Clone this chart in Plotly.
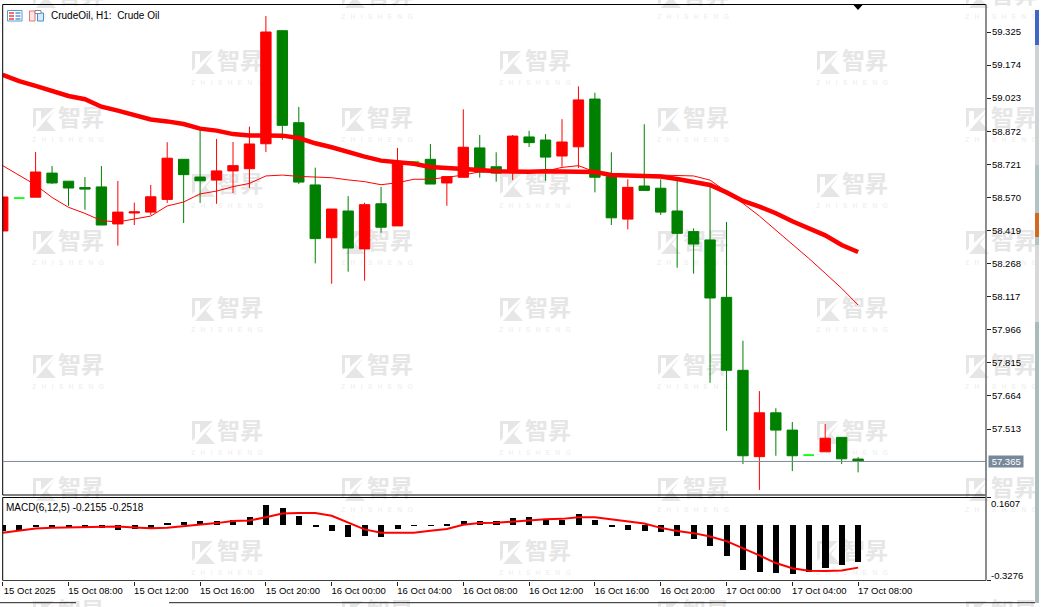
import plotly.graph_objects as go

# ---------- chart data ----------
opens = [58.417,58.567,58.571,58.681,58.644,58.615,58.618,58.449,58.499,58.503,58.561,58.744,58.663,58.649,58.691,58.701,58.815,59.331,58.911,58.627,58.386,58.508,58.335,58.541,58.440,58.732,58.744,58.636,58.662,58.796,58.710,58.687,58.846,58.832,58.759,58.801,59.019,58.665,58.471,58.622,58.612,58.508,58.414,58.376,58.114,57.781,57.387,57.587,57.508,57.394,57.409,57.475,57.376]
highs = [58.572,58.567,58.777,58.713,58.644,58.663,58.713,58.645,58.546,58.627,58.822,58.744,58.878,58.837,58.823,58.893,59.398,59.331,58.983,58.706,58.517,58.576,58.546,58.618,58.796,58.732,58.814,58.665,58.972,58.855,58.776,58.855,58.874,58.859,58.927,59.077,59.048,58.776,58.653,58.904,58.653,58.649,58.429,58.619,58.458,57.916,57.686,57.608,57.545,57.394,57.536,57.475,57.385]
lows = [58.417,58.567,58.571,58.631,58.532,58.514,58.444,58.350,58.444,58.490,58.545,58.453,58.545,58.541,58.590,58.613,58.777,58.833,58.631,58.269,58.176,58.231,58.190,58.409,58.440,58.732,58.631,58.532,58.662,58.660,58.642,58.649,58.800,58.646,58.710,58.704,58.593,58.444,58.424,58.602,58.490,58.249,58.222,57.724,57.505,57.353,57.235,57.391,57.321,57.394,57.409,57.353,57.315]
closes = [58.572,58.567,58.686,58.636,58.613,58.608,58.444,58.503,58.504,58.573,58.749,58.674,58.646,58.691,58.715,58.814,59.325,58.899,58.640,58.382,58.517,58.339,58.537,58.434,58.733,58.732,58.631,58.665,58.799,58.686,58.681,58.850,58.820,58.754,58.823,59.015,58.662,58.477,58.616,58.602,58.503,58.406,58.357,58.111,57.781,57.391,57.587,57.508,57.391,57.394,57.471,57.377,57.366]
ma_slow = [59.129,59.101,59.079,59.056,59.033,59.018,58.984,58.966,58.946,58.926,58.917,58.905,58.884,58.875,58.859,58.853,58.853,58.852,58.841,58.817,58.799,58.776,58.756,58.738,58.729,58.724,58.709,58.706,58.698,58.695,58.689,58.687,58.687,58.690,58.689,58.687,58.686,58.672,58.671,58.667,58.665,58.654,58.639,58.627,58.593,58.554,58.528,58.498,58.461,58.429,58.397,58.353,58.321]
ma_fast = [58.715,58.672,58.627,58.570,58.525,58.497,58.464,58.458,58.471,58.485,58.531,58.549,58.586,58.599,58.619,58.634,58.668,58.672,58.666,58.662,58.660,58.650,58.642,58.628,58.637,58.653,58.653,58.662,58.672,58.687,58.686,58.687,58.687,58.690,58.707,58.715,58.687,58.672,58.674,58.674,58.672,58.671,58.668,58.649,58.596,58.543,58.485,58.421,58.353,58.292,58.224,58.155,58.079]
macd_hist = [-.031,-.031,-.006,-.006,-.010,-.015,-.018,-.025,-.023,-.020,.012,.018,.025,.024,.031,.049,.122,.104,.053,-.010,-.031,-.067,-.061,-.067,-.024,-.004,-.004,.004,.024,.024,.024,.041,.047,.031,.031,.067,.031,-.012,-.025,-.031,-.041,-.065,-.078,-.120,-.180,-.261,-.272,-.278,-.284,-.272,-.249,-.231,-.2155]
macd_signal = [-.047,-.033,-.022,-.018,-.016,-.010,-.008,-.010,-.016,-.020,-.018,-.010,-.002,.010,.022,.025,.045,.067,.069,.069,.053,.014,-.027,-.047,-.049,-.047,-.035,-.024,0,.010,.012,.020,.025,.033,.035,.045,.045,.033,.022,.008,-.018,-.037,-.049,-.069,-.096,-.137,-.180,-.225,-.255,-.270,-.272,-.269,-.2518]
price_ticks = ["59.325","59.174","59.023","58.872","58.721","58.570","58.419","58.268","58.117","57.966","57.815","57.664","57.513"]
time_ticks = ["15 Oct 2025","15 Oct 08:00","15 Oct 12:00","15 Oct 16:00","15 Oct 20:00","16 Oct 00:00","16 Oct 04:00","16 Oct 08:00","16 Oct 12:00","16 Oct 16:00","16 Oct 20:00","17 Oct 00:00","17 Oct 04:00","17 Oct 08:00"]
last_price = 57.365
macd_top, macd_bottom = 0.1607, -0.3276

# ---------- page layout (pixels) ----------
W, H = 1041, 607
L, R = 2.7, 986
MAIN_T, MAIN_B = 4.5, 495
SUB_T, SUB_B = 497.5, 580.5
BAR_PX = 16.45
FONT = "Liberation Sans"
WM = "#e6e6e6"
mark_cols_a = [68, 377, 693, 1001]
mark_rows_a = [2, 125, 248, 372, 495, 618]
mark_cols_b = [227, 535, 852]
mark_rows_b = [68, 191, 315, 438, 558]
marks = [(x, y) for x in mark_cols_a for y in mark_rows_a] + [(x, y) for x in mark_cols_b for y in mark_rows_b]

n = len(opens)
idx = list(range(n))
fig = go.Figure()

# watermark subplot (drawn first, underneath the chart)
fig.add_trace(go.Scatter(x=[m[0] + 13 for m in marks], y=[m[1] - 5 for m in marks], mode="text", text=["智昇"] * len(marks),
                         textfont=dict(family="Noto Sans CJK SC", size=23, color=WM, weight=700),
                         xaxis="x", yaxis="y", hoverinfo="skip"))
fig.add_trace(go.Scatter(x=[m[0] for m in marks], y=[m[1] + 15 for m in marks], mode="text",
                         text=["\u00a0\u00a0\u00a0".join("ZHISHENG")] * len(marks),
                         textfont=dict(family=FONT, size=6.5, color="#ececec"),
                         xaxis="x", yaxis="y", hoverinfo="skip"))

# candles
def subset(keep):
    ii = [i for i in idx if keep(i)]
    return dict(x=ii, open=[opens[i] for i in ii], high=[highs[i] for i in ii], low=[lows[i] for i in ii], close=[closes[i] for i in ii])

def candle(sel, inc, dec):
    fig.add_trace(go.Candlestick(**sel, xaxis="x2", yaxis="y2", whiskerwidth=0,
                                 increasing=dict(line=dict(color=inc, width=1), fillcolor=inc),
                                 decreasing=dict(line=dict(color=dec, width=1), fillcolor=dec)))

candle(subset(lambda i: opens[i] != closes[i]), "#ff0000", "#008000")
candle(subset(lambda i: opens[i] == closes[i]), "#00ff00", "#00ff00")
fig.add_trace(go.Scatter(x=idx, y=ma_fast, mode="lines", line=dict(color="#ff0000", width=1), xaxis="x2", yaxis="y2"))
fig.add_trace(go.Scatter(x=idx, y=ma_slow, mode="lines", line=dict(color="#ff0000", width=4.5), xaxis="x2", yaxis="y2"))

# MACD
fig.add_trace(go.Bar(x=idx, y=macd_hist, width=0.37, marker=dict(color="#000000", line=dict(width=0)), xaxis="x3", yaxis="y3"))
fig.add_trace(go.Scatter(x=idx, y=macd_signal, mode="lines", line=dict(color="#ff0000", width=2), xaxis="x3", yaxis="y3"))

# ---------- shapes ----------
def page_rect(x0, y0, x1, y1, color, line=None, layer="above"):
    return dict(type="rect", xref="x", yref="y", x0=x0, y0=y0, x1=x1, y1=y1, fillcolor=color,
                line=dict(color=line or color, width=1 if line else 0), layer=layer)

def page_line(x0, y0, x1, y1, color, width=1):
    return dict(type="line", xref="x", yref="y", x0=x0, y0=y0, x1=x1, y1=y1, line=dict(color=color, width=width), layer="above")

shapes = []
icon_path = ""
for cx, cy in marks:
    x0, y0 = cx - 35, cy - 17
    icon_path += (f"M{x0},{y0} L{x0+21},{y0} L{x0+8},{y0+12} L{x0+8},{y0+3} L{x0+3},{y0+3} L{x0+3},{y0+17} L{x0},{y0+20} Z "
                  f"M{x0+3},{y0+23} L{x0+11},{y0+14} L{x0+22},{y0+2} L{x0+14},{y0+13} L{x0+23},{y0+23} Z ")
shapes.append(dict(type="path", xref="x", yref="y", path=icon_path, fillcolor=WM, line=dict(width=0), layer="below"))

# chart frames
shapes += [
    page_line(L, MAIN_T, R, MAIN_T, "#000000"),
    page_line(L, MAIN_T, L, MAIN_B, "#000000"),
    page_line(L, MAIN_B, R, MAIN_B, "#000000"),
    page_line(L, SUB_T, R, SUB_T, "#000000"),
    page_line(L, SUB_T, L, SUB_B, "#000000"),
    page_line(L, SUB_B, R, SUB_B, "#404040"),
    page_line(R, MAIN_T, R, SUB_B, "#707070", 1.6),
    page_line(0, 602.7, 76, 602.7, "#222222"),
    page_line(169, 602.7, 1035, 602.7, "#222222"),
]
# last-price line
shapes.append(dict(type="line", xref="x", yref="y2", x0=L, x1=R, y0=last_price, y1=last_price, line=dict(color="#7f8a94", width=1), layer="above"))
# top marker
shapes.append(dict(type="path", xref="x", yref="y", path="M853.5,5 L862.5,5 L858,10 Z", fillcolor="#000000", line=dict(width=0), layer="above"))
# window strip at the right edge
for y0, y1, c in [(10, 45, "#3f67c8"), (45, 165, "#cfd2d2"), (165, 213, "#b0c4c4"), (213, 237, "#d2691e"),
                  (237, 245, "#b0c4c4"), (245, 322, "#d8d8d8"), (322, 603, "#a9bcbc")]:
    shapes.append(page_rect(1035, y0, 1039, y1, c))
# toolbar icons
shapes += [
    page_rect(7.5, 10.5, 22, 21, "#ffffff", "#5b9bd5"),
    page_rect(9, 12, 14, 14, "#f07070"), page_rect(9, 15, 14, 17, "#f07070"), page_rect(9, 18, 14, 20, "#f07070"),
    page_rect(15.5, 12, 20.5, 14, "#7fb0e0"), page_rect(15.5, 15, 20.5, 17, "#7fb0e0"), page_rect(15.5, 18, 20.5, 20, "#7fb0e0"),
    page_rect(29.5, 11, 35, 21, "#fde8e8", "#f07070"),
    page_rect(37.5, 13, 43.5, 21, "#d9ebfa", "#3f8fd6"),
    page_rect(35, 10.5, 41, 13.5, "#ffffff", "#8a8a8a"),
]

# ---------- texts ----------
def note(text, x, y, anchor="left", vanchor="middle", size=10, color="#000000", yref="y", **kw):
    return dict(text=text, x=x, y=y, xref="x", yref=yref, xanchor=anchor, yanchor=vanchor, showarrow=False,
                align="left", font=dict(family=FONT, size=size, color=color), borderpad=0, **kw)

annotations = [
    note("CrudeOil, H1:\u00a0\u00a0Crude Oil", 49.5, 15.5),
    note(f"MACD(6,12,5) {macd_hist[-1]:.4f} {macd_signal[-1]:.4f}", 4.5, 507),
    note(f"{macd_top:.4f}", 990, 503, size=9.5),
    note(f"{macd_bottom:.4f}", 990, 575, size=9.5),
    note(f"\u00a0{last_price:.3f}\u00a0", 988, last_price, yref="y2", size=9.5, color="#ffffff", bgcolor="#778899"),
]

# ---------- layout ----------
to_paper = lambda y: 1 - y / H
x_dom = [L / W, R / W]
x_max = (R - L) / BAR_PX
p_per_px = 0.004564
y_hi = 59.325 + (32 - MAIN_T) * p_per_px
y_lo = 59.325 - (MAIN_B - 32) * p_per_px
hidden = dict(visible=False, fixedrange=True)

fig.update_layout(
    width=W, height=H, margin=dict(l=0, r=0, t=0, b=0), autosize=False,
    paper_bgcolor="#ffffff", plot_bgcolor="rgba(0,0,0,0)", showlegend=False, bargap=0,
    boxgap=0.37, boxgroupgap=0,
    xaxis=dict(domain=[0, 1], range=[0, W], **hidden),
    yaxis=dict(domain=[0, 1], range=[H, 0], **hidden),
    xaxis2=dict(domain=x_dom, range=[0, x_max], anchor="y2", showgrid=False, showticklabels=False, ticks="", zeroline=False,
                rangeslider=dict(visible=False)),
    yaxis2=dict(domain=[to_paper(MAIN_B), to_paper(MAIN_T)], range=[y_lo, y_hi], anchor="x2", side="right", showgrid=False, zeroline=False,
                tickmode="array", tickvals=[float(t) for t in price_ticks], ticktext=price_ticks,
                ticks="outside", ticklen=4, tickcolor="#222222", tickwidth=1, ticklabelstandoff=-1,
                tickfont=dict(family=FONT, size=9.5, color="#000000")),
    xaxis3=dict(domain=x_dom, range=[0, x_max], anchor="y3", showgrid=False, zeroline=False,
                tickmode="array", tickvals=idx[::4], ticktext=time_ticks, tickangle=0,
                ticks="outside", ticklen=4, tickcolor="#222222", tickwidth=1,
                ticklabelshift=27, ticklabelstandoff=-3,
                tickfont=dict(family=FONT, size=9.5, color="#000000")),
    yaxis3=dict(domain=[to_paper(SUB_B), to_paper(SUB_T)], range=[macd_bottom, macd_top], anchor="x3", side="right", showgrid=False, zeroline=False,
                tickmode="array", tickvals=[macd_bottom, macd_top], ticktext=["", ""],
                ticks="outside", ticklen=4, tickcolor="#222222", tickwidth=1),
    shapes=shapes, annotations=annotations,
)

fig.write_html("out.html", config=dict(displayModeBar=False),
               post_script="document.body.style.margin='0';document.documentElement.style.overflow='hidden';")
